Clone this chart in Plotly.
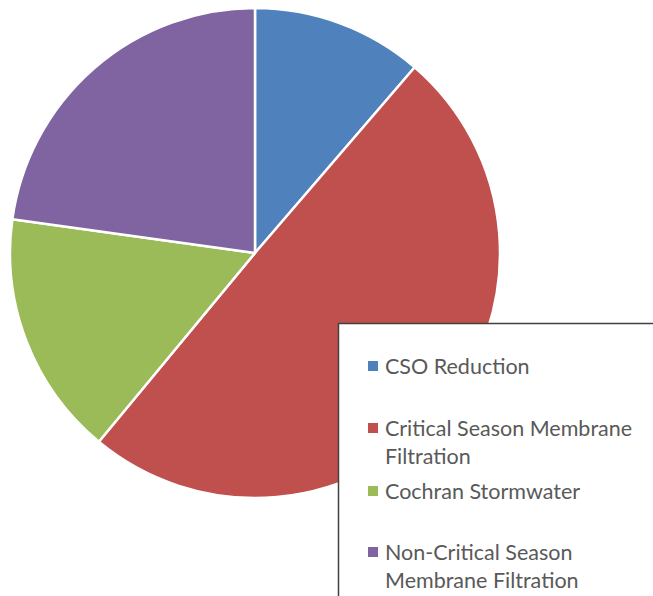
import plotly.graph_objects as go

# 数据
labels = ["CSO Reduction", "Critical Season Membrane<br>Filtration",
          "Cochran Stormwater", "Non-Critical Season<br>Membrane Filtration"]
values = [11.3, 49.7, 16.2, 22.8]
colors = ["#4F81BD", "#C0504D", "#9BBB59", "#8064A2"]

W, H = 653, 596

fig = go.Figure()
fig.add_trace(go.Pie(
    labels=labels,
    values=values,
    sort=False,
    direction="clockwise",
    rotation=0,
    marker=dict(colors=colors, line=dict(color="white", width=2.5)),
    textinfo="none",
    hoverinfo="label+percent",
    showlegend=False,
    domain=dict(x=[10 / W, 500 / W], y=[1 - 498 / H, 1 - 8 / H]),
))

# 图例框（手工绘制）
fig.add_shape(type="rect", xref="paper", yref="paper",
              x0=338.5 / W, x1=(W + 5) / W, y0=-0.02, y1=1 - 323.5 / H,
              fillcolor="white", line=dict(color="#404040", width=1.5),
              layer="above")

item_y = [366, 428, 491, 552]
for lab, col, py in zip(labels, colors, item_y):
    fig.add_shape(type="rect", xref="paper", yref="paper",
                  x0=368 / W, x1=378 / W,
                  y0=1 - (py + 5) / H, y1=1 - (py - 5) / H,
                  fillcolor=col, line=dict(width=0), layer="above")
    for i, line in enumerate(lab.split("<br>")):
        fig.add_annotation(text=line, xref="paper", yref="paper",
                           x=383 / W, y=1 - (py + 28 * i) / H,
                           xanchor="left", yanchor="middle", showarrow=False,
                           font=dict(family="Lato", size=21.5, color="#595959"))

fig.update_layout(
    width=W, height=H,
    margin=dict(l=0, r=0, t=0, b=0),
    paper_bgcolor="white",
    plot_bgcolor="white",
)

fig.write_html("out.html", config={"displayModeBar": False},
               post_script="document.body.style.margin='0';document.body.style.overflow='hidden';")
